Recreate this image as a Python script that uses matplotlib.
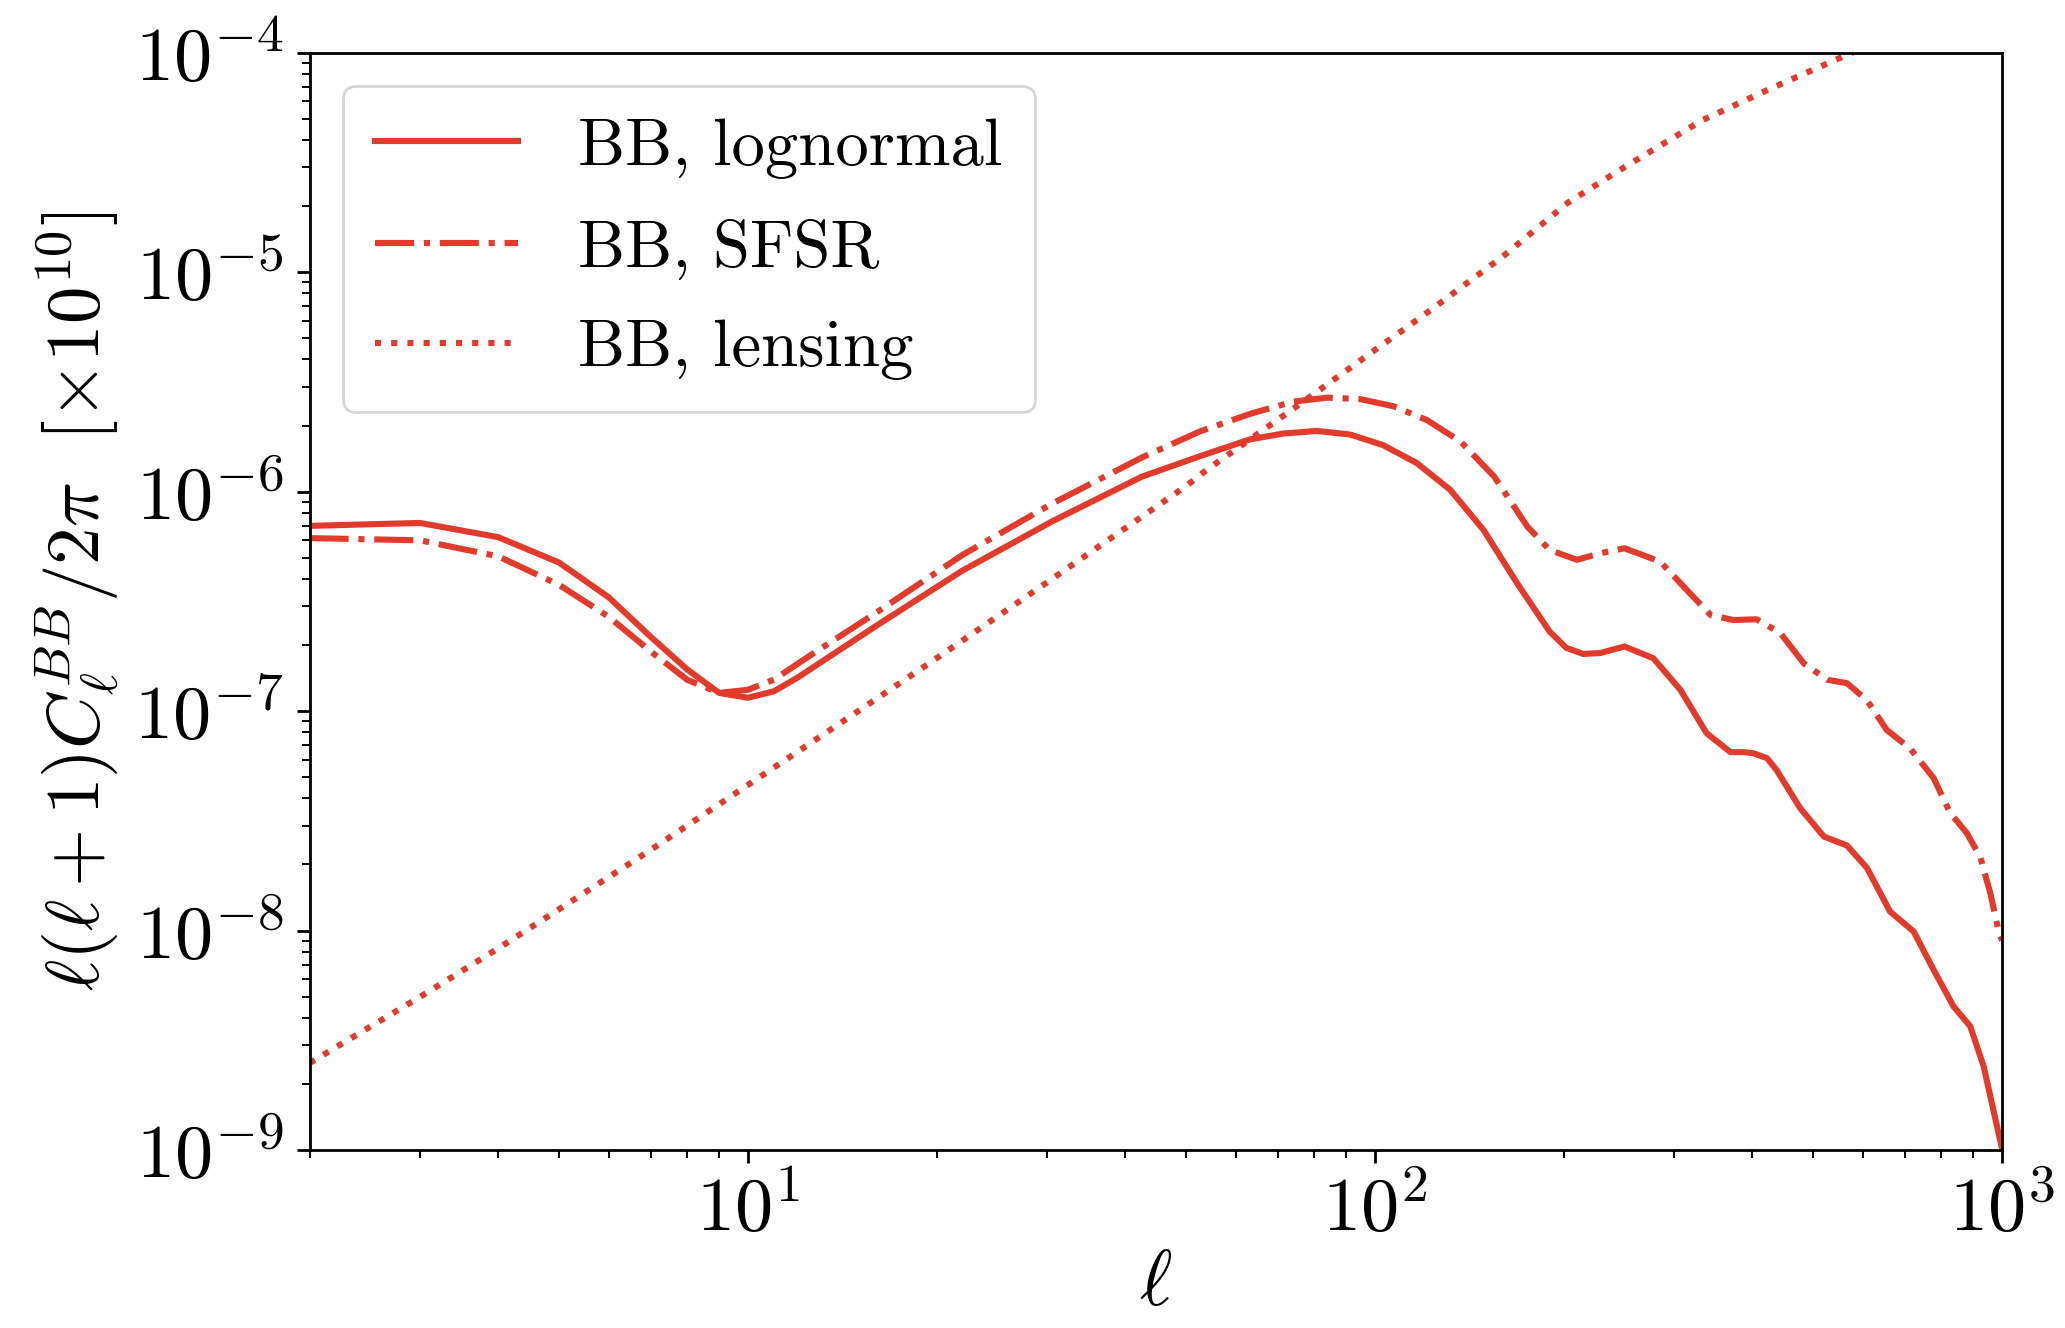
import matplotlib
matplotlib.use("Agg")
import matplotlib.pyplot as plt

plt.rcParams['mathtext.fontset'] = 'cm'
plt.rcParams['font.family'] = ['cmr10']
plt.rcParams['axes.formatter.use_mathtext'] = True

RED = '#E23A2B'

# --- data ---
ell_lognormal = [2, 3, 4, 5, 6, 7, 8, 9, 10, 11, 12, 16, 22, 30.6, 42.5, 52.6, 63.2,
                 71.5, 80.8, 91.3, 103, 116.6, 131.8, 149, 168.5, 190, 202, 215, 229,
                 250, 278, 307, 338, 369, 387, 401, 422, 437, 477, 520, 566, 609, 663,
                 723, 778, 837, 890, 935, 993, 1000]
bb_lognormal = [6.98e-7, 7.2e-7, 6.2e-7, 4.75e-7, 3.3e-7, 2.18e-7, 1.55e-7, 1.21e-7,
                1.15e-7, 1.23e-7, 1.42e-7, 2.44e-7, 4.37e-7, 7.33e-7, 1.17e-6, 1.45e-6,
                1.73e-6, 1.84e-6, 1.89e-6, 1.82e-6, 1.63e-6, 1.35e-6, 1.02e-6, 6.69e-7,
                3.83e-7, 2.30e-7, 1.94e-7, 1.82e-7, 1.84e-7, 1.97e-7, 1.74e-7, 1.25e-7,
                7.93e-8, 6.5e-8, 6.5e-8, 6.43e-8, 6.1e-8, 5.39e-8, 3.6e-8, 2.68e-8,
                2.44e-8, 1.93e-8, 1.22e-8, 9.9e-9, 6.62e-9, 4.51e-9, 3.66e-9, 2.4e-9,
                1.11e-9, 1.02e-9]

ell_sfsr = [2, 3, 4, 5, 6, 7, 8, 9, 10, 11, 12.6, 16, 22, 30.6, 42.5, 52.6, 63.2, 74,
            84, 94.7, 107, 121, 137, 155, 175, 190, 210, 229, 250, 285, 318, 343, 373,
            406, 443, 483, 526, 566, 609, 655, 714, 778, 827, 879, 924, 958, 987, 1000]
bb_sfsr = [6.14e-7, 6.0e-7, 5.07e-7, 3.76e-7, 2.69e-7, 1.87e-7, 1.39e-7, 1.21e-7,
           1.25e-7, 1.39e-7, 1.8e-7, 2.8e-7, 5.15e-7, 8.83e-7, 1.43e-6, 1.88e-6,
           2.26e-6, 2.57e-6, 2.68e-6, 2.64e-6, 2.45e-6, 2.12e-6, 1.69e-6, 1.17e-6,
           6.93e-7, 5.42e-7, 4.89e-7, 5.24e-7, 5.52e-7, 4.8e-7, 3.44e-7, 2.74e-7,
           2.6e-7, 2.62e-7, 2.27e-7, 1.65e-7, 1.39e-7, 1.34e-7, 1.12e-7, 8.2e-8,
           6.75e-8, 4.95e-8, 3.43e-8, 2.78e-8, 2.15e-8, 1.48e-8, 1.0e-8, 9.0e-9]

ell_lensing = [2, 3, 4, 5, 7, 10, 15, 20, 30, 50, 54, 76, 100, 111, 124, 160, 203, 240,
               260, 332, 425, 576, 1000]
bb_lensing = [2.49e-9, 4.98e-9, 8.3e-9, 1.25e-8, 2.33e-8, 4.6e-8, 1.0e-7, 1.74e-7,
              3.86e-7, 1.06e-6, 1.26e-6, 2.51e-6, 4.42e-6, 5.46e-6, 6.87e-6, 1.18e-5,
              2.07e-5, 2.8e-5, 3.22e-5, 4.91e-5, 6.81e-5, 1.0e-4, 2.2e-4]

labels = ['BB, lognormal', 'BB, SFSR', 'BB, lensing']
x_ticks = [10, 100, 1000]
x_ticklabels = [r'$10^{1}$', r'$10^{2}$', r'$10^{3}$']
y_ticks = [1e-9, 1e-8, 1e-7, 1e-6, 1e-5, 1e-4]
y_ticklabels = [r'$10^{-9}$', r'$10^{-8}$', r'$10^{-7}$', r'$10^{-6}$', r'$10^{-5}$', r'$10^{-4}$']

W, H = 2065, 1328
fig = plt.figure(figsize=(W / 100, H / 100), dpi=100)
ax = fig.add_axes([309.5 / W, 1 - 1150 / H, (2002 - 309.5) / W, (1150 - 52.7) / H])

lw = 4.4
ax.plot(ell_lognormal, bb_lognormal, '-', color=RED, lw=lw, label=labels[0])
ax.plot(ell_sfsr, bb_sfsr, '-.', color=RED, lw=lw, label=labels[1])
ax.plot(ell_lensing, bb_lensing, ':', color=RED, lw=lw, label=labels[2])

ax.set_xscale('log')
ax.set_yscale('log')
ax.set_xlim(2, 1000)
ax.set_ylim(1e-9, 1e-4)
ax.set_xticks(x_ticks)
ax.set_xticklabels(x_ticklabels)
ax.set_yticks(y_ticks)
ax.set_yticklabels(y_ticklabels)

for s in ax.spines.values():
    s.set_linewidth(2.0)
ax.tick_params(which='major', length=9.7, width=2.0, labelsize=55, pad=9)
ax.tick_params(which='minor', length=5.5, width=1.4)
ax.tick_params(axis='x', which='major', pad=8)

ax.set_xlabel(r'$\ell$', fontsize=56, labelpad=4)
ax.set_ylabel(r'$\ell(\ell+1)C_\ell^{BB}/2\pi\ \ [\times 10^{10}]$', fontsize=54, labelpad=9)

leg = ax.legend(loc='upper left', prop={'family': 'cmr10', 'size': 48}, frameon=True,
                fancybox=True, handlelength=2.15, handletextpad=0.9, borderaxespad=0.5,
                labelspacing=0.6, borderpad=0.48)
leg.get_frame().set_linewidth(2.0)
leg.get_frame().set_edgecolor('0.8')

fig.savefig('out.png', dpi=100)
